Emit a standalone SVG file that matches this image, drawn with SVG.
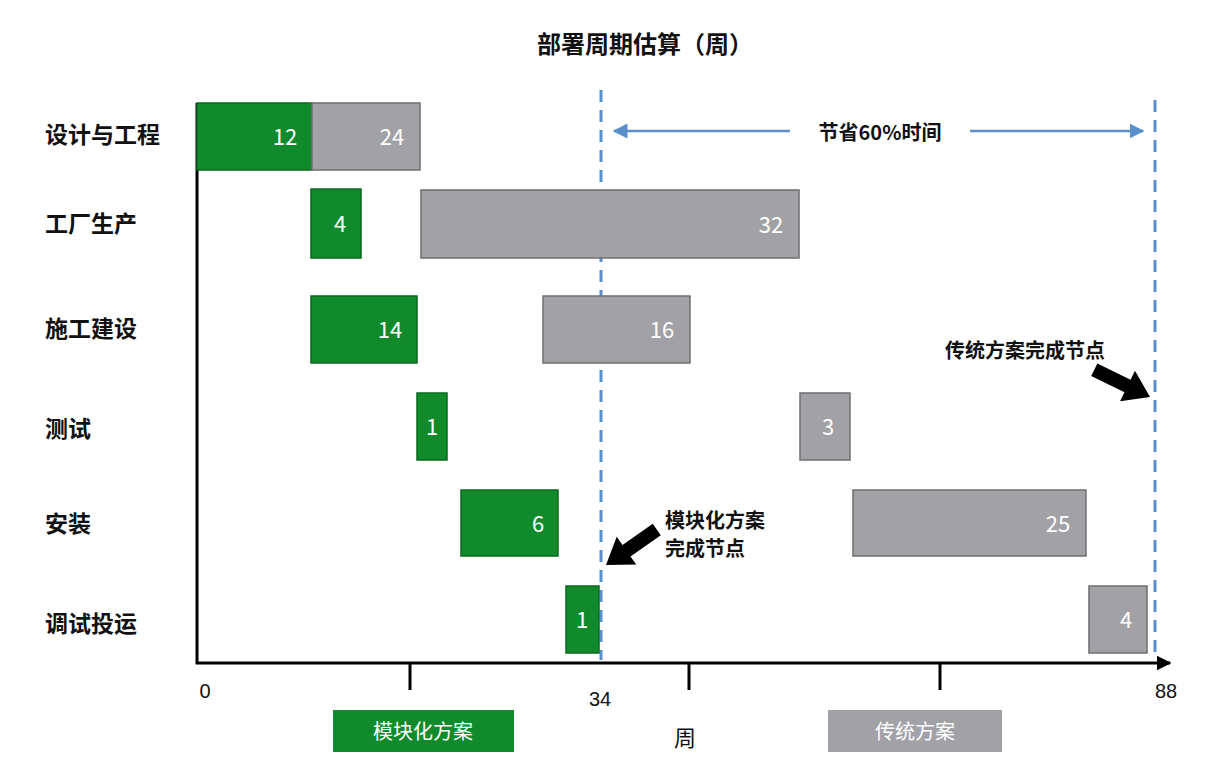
<svg xmlns="http://www.w3.org/2000/svg" width="1232" height="768" viewBox="0 0 1232 768">
<style>
text{font-family:"Noto Sans CJK SC","Liberation Sans",sans-serif}
.t{font-size:23px;font-weight:bold;fill:#111}
.g{fill:#118a2c;stroke:#0b6a1f;stroke-width:1.5}
.y{fill:#a2a2a6;stroke:#6f6f73;stroke-width:1.5}
.n{font-size:22px;fill:#fff;text-anchor:middle}
.ax{stroke:#000;stroke-width:3;fill:none}
.d{stroke:#5a8fcc;stroke-width:3;stroke-dasharray:12 8;fill:none}
.num{font-size:20px;fill:#111;font-family:"Liberation Sans",sans-serif}
</style>
<defs>
<marker id="a" viewBox="0 0 10 10" refX="9" refY="5" markerWidth="6" markerHeight="6" orient="auto-start-reverse"><path d="M0,0L10,5L0,10z" fill="#5a8fcc"/></marker>
<marker id="k" viewBox="0 0 10 10" refX="9" refY="5" markerWidth="5" markerHeight="5" orient="auto"><path d="M0,0L10,5L0,10z" fill="#000"/></marker>
</defs>
<rect width="1232" height="768" fill="#fff"/>
<text x="645" y="53" font-size="24" font-weight="bold" text-anchor="middle" fill="#111">部署周期估算（周）</text>
<g id="labels">
<text class="t" x="45" y="143">设计与工程</text>
<text class="t" x="45" y="232">工厂生产</text>
<text class="t" x="45" y="337">施工建设</text>
<text class="t" x="45" y="437">测试</text>
<text class="t" x="45" y="532">安装</text>
<text class="t" x="45" y="632">调试投运</text>
</g>
<g id="connectors">
<path class="ax" d="M197,103V663H1170" marker-end="url(#k)"/>
<path class="ax" d="M410,663V690M689,663V690M940,663V690"/>
<path class="d" d="M601,90V660M1155,100V660"/>
<path d="M614,131H1143" stroke="#5a8fcc" stroke-width="2.5" marker-start="url(#a)" marker-end="url(#a)"/>
</g>
<rect x="790" y="118" width="180" height="28" fill="#fff"/>
<text x="880" y="140" font-size="20" font-weight="bold" text-anchor="middle" fill="#111">节省60%时间</text>
<g id="bars">
<rect class="g" x="197" y="103" width="115" height="67"/><text class="n" x="285" y="145">12</text>
<rect class="y" x="312" y="103" width="108" height="67"/><text class="n" x="392" y="145">24</text>
<rect class="g" x="311" y="189" width="50" height="69"/><text class="n" x="340" y="232">4</text>
<rect class="y" x="421" y="190" width="378" height="68"/><text class="n" x="771" y="233">32</text>
<rect class="g" x="311" y="296" width="106" height="67"/><text class="n" x="390" y="338">14</text>
<rect class="y" x="543" y="296" width="147" height="67"/><text class="n" x="662" y="338">16</text>
<rect class="g" x="417" y="393" width="30" height="67"/><text class="n" x="432" y="435">1</text>
<rect class="y" x="800" y="393" width="50" height="67"/><text class="n" x="828" y="435">3</text>
<rect class="g" x="461" y="490" width="97" height="66"/><text class="n" x="538" y="532">6</text>
<rect class="y" x="853" y="490" width="233" height="66"/><text class="n" x="1058" y="532">25</text>
<rect class="g" x="566" y="586" width="33" height="67"/><text class="n" x="582" y="628">1</text>
<rect class="y" x="1089" y="586" width="58" height="67"/><text class="n" x="1126" y="628">4</text>
</g>
<g id="callouts">
<polygon points="0,0 25,-17 25,-7 62,-7 62,7 25,7 25,17" fill="#000" transform="translate(606,565) rotate(-35)"/>
<polygon points="0,0 25,-17 25,-7 62,-7 62,7 25,7 25,17" fill="#000" transform="translate(1150,397) rotate(-154)"/>
<text x="665" y="528" font-size="20" font-weight="bold" fill="#111">模块化方案</text>
<text x="665" y="556" font-size="20" font-weight="bold" fill="#111">完成节点</text>
<text x="945" y="358" font-size="20" font-weight="bold" fill="#111">传统方案完成节点</text>
</g>
<text class="num" x="205" y="698" text-anchor="middle">0</text>
<text class="num" x="600" y="706" text-anchor="middle">34</text>
<text class="num" x="1166" y="698" text-anchor="middle">88</text>
<text x="685" y="746" font-size="22" text-anchor="middle" fill="#111">周</text>
<g id="legend">
<rect x="333" y="710" width="181" height="42" fill="#118a2c"/><text x="423" y="739" font-size="20" fill="#fff" text-anchor="middle">模块化方案</text>
<rect x="828" y="710" width="174" height="42" fill="#a2a2a6"/><text x="915" y="739" font-size="20" fill="#fff" text-anchor="middle">传统方案</text>
</g>
</svg>
